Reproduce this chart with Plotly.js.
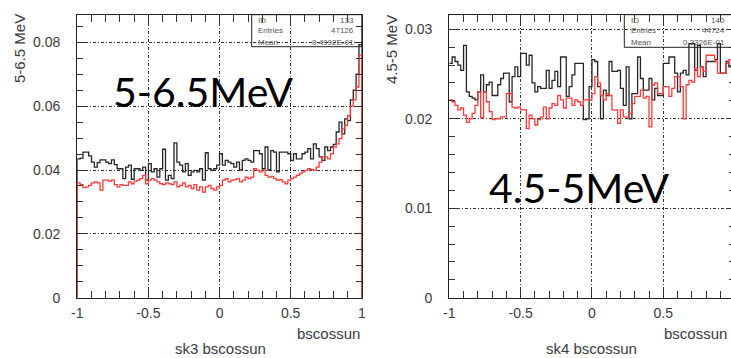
<!DOCTYPE html>
<html><head><meta charset="utf-8">
<script src="https://cdn.plot.ly/plotly-3.0.1.min.js"></script>
<style>html,body{margin:0;padding:0;overflow:hidden;background:#fff;width:731px;height:358px}#chart{width:736px;height:358px}</style>
</head><body><div id="chart"></div>
<script>
// ---- data (100 bins, bscossun from -1 to 1) ----
const xMin = -1, xMax = 1;
const sk3Black = [
0.0435,0.0437,0.0456,0.0456,0.0444,0.0425,0.0409,0.0423,0.0432,0.0432,
0.0425,0.0420,0.0432,0.0417,0.0404,0.0404,0.0373,0.0409,0.0415,0.0371,
0.0404,0.0404,0.0399,0.0409,0.0368,0.0420,0.0394,0.0404,0.0378,0.0404,
0.0465,0.0368,0.0383,0.0373,0.0485,0.0425,0.0415,0.0394,0.0420,0.0383,
0.0394,0.0399,0.0394,0.0404,0.0368,0.0454,0.0404,0.0399,0.0404,0.0415,
0.0451,0.0415,0.0430,0.0425,0.0420,0.0409,0.0425,0.0400,0.0430,0.0435,
0.0430,0.0425,0.0461,0.0461,0.0451,0.0404,0.0472,0.0400,0.0461,0.0456,
0.0394,0.0456,0.0456,0.0456,0.0451,0.0430,0.0451,0.0435,0.0435,0.0451,
0.0456,0.0467,0.0435,0.0482,0.0467,0.0441,0.0430,0.0472,0.0461,0.0472,
0.0480,0.0519,0.0550,0.0513,0.0560,0.0555,0.0620,0.0650,0.0700,0.0793];
const sk3Red = [
0.0360,0.0354,0.0345,0.0347,0.0352,0.0360,0.0363,0.0360,0.0337,0.0368,
0.0368,0.0365,0.0368,0.0354,0.0347,0.0354,0.0352,0.0352,0.0363,0.0357,
0.0365,0.0368,0.0373,0.0383,0.0357,0.0368,0.0373,0.0368,0.0363,0.0357,
0.0354,0.0360,0.0357,0.0354,0.0363,0.0347,0.0352,0.0360,0.0347,0.0352,
0.0342,0.0354,0.0337,0.0347,0.0331,0.0347,0.0352,0.0342,0.0337,0.0347,
0.0352,0.0368,0.0373,0.0363,0.0368,0.0370,0.0373,0.0363,0.0368,0.0378,
0.0373,0.0378,0.0404,0.0399,0.0394,0.0401,0.0383,0.0378,0.0380,0.0373,
0.0368,0.0370,0.0363,0.0357,0.0368,0.0373,0.0378,0.0383,0.0389,0.0394,
0.0399,0.0404,0.0401,0.0399,0.0409,0.0425,0.0441,0.0441,0.0435,0.0451,
0.0472,0.0482,0.0498,0.0529,0.0540,0.0570,0.0600,0.0620,0.0660,0.0760];
const sk4Black = [
0.0262,0.0269,0.0264,0.0260,0.0254,0.0282,0.0230,0.0225,0.0223,0.0221,
0.0230,0.0249,0.0230,0.0238,0.0241,0.0226,0.0226,0.0238,0.0245,0.0251,
0.0251,0.0219,0.0247,0.0258,0.0247,0.0273,0.0273,0.0260,0.0271,0.0240,
0.0230,0.0236,0.0234,0.0234,0.0254,0.0234,0.0243,0.0253,0.0236,0.0269,
0.0269,0.0225,0.0236,0.0249,0.0262,0.0262,0.0262,0.0199,0.0200,0.0236,
0.0266,0.0264,0.0236,0.0200,0.0232,0.0226,0.0264,0.0253,0.0253,0.0254,
0.0234,0.0215,0.0258,0.0200,0.0228,0.0228,0.0269,0.0245,0.0232,0.0232,
0.0245,0.0221,0.0234,0.0226,0.0226,0.0262,0.0262,0.0269,0.0269,0.0251,
0.0230,0.0251,0.0254,0.0249,0.0284,0.0284,0.0254,0.0282,0.0258,0.0247,
0.0264,0.0264,0.0264,0.0266,0.0284,0.0251,0.0251,0.0264,0.0258,0.0270];
const sk4Red = [
0.0221,0.0219,0.0215,0.0210,0.0212,0.0204,0.0196,0.0200,0.0206,0.0215,
0.0230,0.0201,0.0230,0.0219,0.0208,0.0199,0.0200,0.0200,0.0202,0.0202,
0.0228,0.0228,0.0213,0.0212,0.0213,0.0210,0.0210,0.0189,0.0204,0.0200,
0.0193,0.0199,0.0202,0.0213,0.0200,0.0212,0.0217,0.0215,0.0226,0.0221,
0.0212,0.0223,0.0223,0.0215,0.0221,0.0219,0.0215,0.0221,0.0221,0.0221,
0.0228,0.0247,0.0240,0.0226,0.0221,0.0228,0.0226,0.0210,0.0210,0.0195,
0.0210,0.0202,0.0202,0.0206,0.0217,0.0225,0.0225,0.0232,0.0223,0.0225,
0.0191,0.0238,0.0240,0.0228,0.0228,0.0236,0.0236,0.0225,0.0234,0.0247,
0.0247,0.0236,0.0200,0.0238,0.0243,0.0241,0.0256,0.0247,0.0258,0.0253,
0.0271,0.0271,0.0271,0.0264,0.0251,0.0251,0.0251,0.0262,0.0266,0.0270];
const xTickVals = [-1, -0.5, 0, 0.5, 1];
const xTickText = ['-1', '-0.5', '0', '0.5', '1'];
const leftYTitle = '5-6.5 MeV', rightYTitle = '4.5-5 MeV';
const leftLabel = '5-6.5MeV', rightLabel = '4.5-5MeV';
const leftStats = {ID: '133', Entries: '47126', Mean: '0.4992E-01'};
const rightStats = {ID: '140', Entries: '44724', Mean: '0.3326E-01'};

// ---- helpers ----
const W = 736, H = 358;
const px = x => x / W, py = y => (H - y) / H;
function step(vals, closed) {
  const n = vals.length, w = (xMax - xMin) / n;
  const xs = [], ys = [];
  if (closed) { xs.push(xMin); ys.push(0); }
  vals.forEach((v, i) => { xs.push(xMin + i * w); ys.push(v); });
  xs.push(xMax); ys.push(vals[n - 1]);
  if (closed) { xs.push(xMax); ys.push(0); }
  return {x: xs, y: ys};
}
const BLACK = '#262626', RED = '#ff3b3b';
function tr(vals, color, xa, ya, closed) {
  const s = step(vals, closed);
  return {type: 'scatter', mode: 'lines', x: s.x, y: s.y, xaxis: xa, yaxis: ya,
    line: {shape: 'hv', color: color, width: 1.3}, hoverinfo: 'skip', showlegend: false};
}
const data = [
  tr(sk3Black, BLACK, 'x', 'y', true), tr(sk3Red, RED, 'x', 'y', true),
  tr(sk4Black, BLACK, 'x2', 'y2', false), tr(sk4Red, RED, 'x2', 'y2', false)
];
const tickFont = {family: 'Liberation Sans, Arial, sans-serif', size: 14, color: '#3a3a42'};
const GRID = {showgrid: true, gridcolor: '#333', gridwidth: 1, griddash: '3px,2px,1px,2px', zeroline: false};
function xAxis(dom, anchor) {
  return Object.assign({domain: dom, anchor: anchor, range: [xMin, xMax], tickmode: 'array',
    tickvals: xTickVals, ticktext: xTickText, ticks: 'inside', ticklen: 8, tickcolor: '#333', tickwidth: 1,
    minor: {tickmode: 'linear', tick0: -1, dtick: 0.1, ticks: 'inside', ticklen: 7, tickcolor: '#333', showgrid: false},
    showline: true, linecolor: '#222', linewidth: 1.2, mirror: 'allticks', tickfont: tickFont,
    ticklabelstandoff: 2}, GRID);
}
function yAxis(dom, anchor, top, dt, mdt) {
  return Object.assign({domain: dom, anchor: anchor, range: [0, top], tick0: 0, dtick: dt,
    ticks: 'inside', ticklen: 8, tickcolor: '#333', tickwidth: 1,
    minor: {tick0: 0, dtick: mdt, ticks: 'inside', ticklen: 6, tickcolor: '#333', showgrid: false},
    showline: true, linecolor: '#222', linewidth: 1.2, mirror: 'allticks', tickfont: tickFont,
    ticklabelstandoff: 13}, GRID);
}
const yDom = [py(297.7), py(14.7)];
const txt = (t, x, y, o) => Object.assign({text: t, x: px(x), y: py(y), xref: 'paper', yref: 'paper',
  showarrow: false, font: {family: 'Liberation Sans, Arial, sans-serif', size: 15, color: '#3a3a42'}}, o || {});
const statFont = {family: 'Liberation Sans, Arial, sans-serif', size: 8, color: '#555'};
function statsAnn(st, xl, xr) {
  const out = [], rows = [20, 31, 42];
  Object.keys(st).forEach((k, i) => {
    out.push(txt(k, xl, rows[i], {xanchor: 'left', yanchor: 'middle', font: statFont}));
    out.push(txt(st[k], xr, rows[i], {xanchor: 'right', yanchor: 'middle', font: statFont}));
  });
  return out;
}
const bigFont = {family: 'Lato, Open Sans, sans-serif', size: 41, color: '#000'};
const layout = {
  width: W, height: H, margin: {l: 0, r: 0, t: 0, b: 0},
  paper_bgcolor: '#fff', plot_bgcolor: '#fff', showlegend: false,
  xaxis: xAxis([px(77.3), px(361.8)], 'y'),
  yaxis: yAxis(yDom, 'x', 0.08865, 0.02, 0.005),
  xaxis2: xAxis([px(449.3), px(734.6)], 'y2'),
  yaxis2: yAxis(yDom, 'x2', 0.03163, 0.01, 0.002),
  shapes: [
    {type: 'rect', xref: 'paper', yref: 'paper', x0: px(251.7), x1: px(361.8), y0: py(46.7), y1: py(14.7), line: {color: '#222', width: 1}},
    {type: 'rect', xref: 'paper', yref: 'paper', x0: px(624.3), x1: px(734.6), y0: py(47.3), y1: py(14.7), line: {color: '#222', width: 1}}
  ],
  annotations: [
    txt(leftYTitle, 19, 49, {textangle: -90, xanchor: 'center', yanchor: 'middle'}),
    txt(rightYTitle, 391, 50, {textangle: -90, xanchor: 'center', yanchor: 'middle'}),
    txt('bscossun', 361.8, 333, {xanchor: 'right', yanchor: 'middle'}),
    txt('bscossun', 729, 333, {xanchor: 'right', yanchor: 'middle'}),
    txt('sk3 bscossun', 220, 348.5, {xanchor: 'center', yanchor: 'middle'}),
    txt('sk4 bscossun', 591.5, 348.5, {xanchor: 'center', yanchor: 'middle'}),
    txt(leftLabel, 203, 91, {xanchor: 'center', yanchor: 'middle', font: bigFont}),
    txt(rightLabel, 579, 187, {xanchor: 'center', yanchor: 'middle', font: bigFont})
  ].concat(statsAnn(leftStats, 256, 356), statsAnn(rightStats, 629, 727))
};
Plotly.newPlot('chart', data, layout, {staticPlot: true, displayModeBar: false});
</script></body></html>
